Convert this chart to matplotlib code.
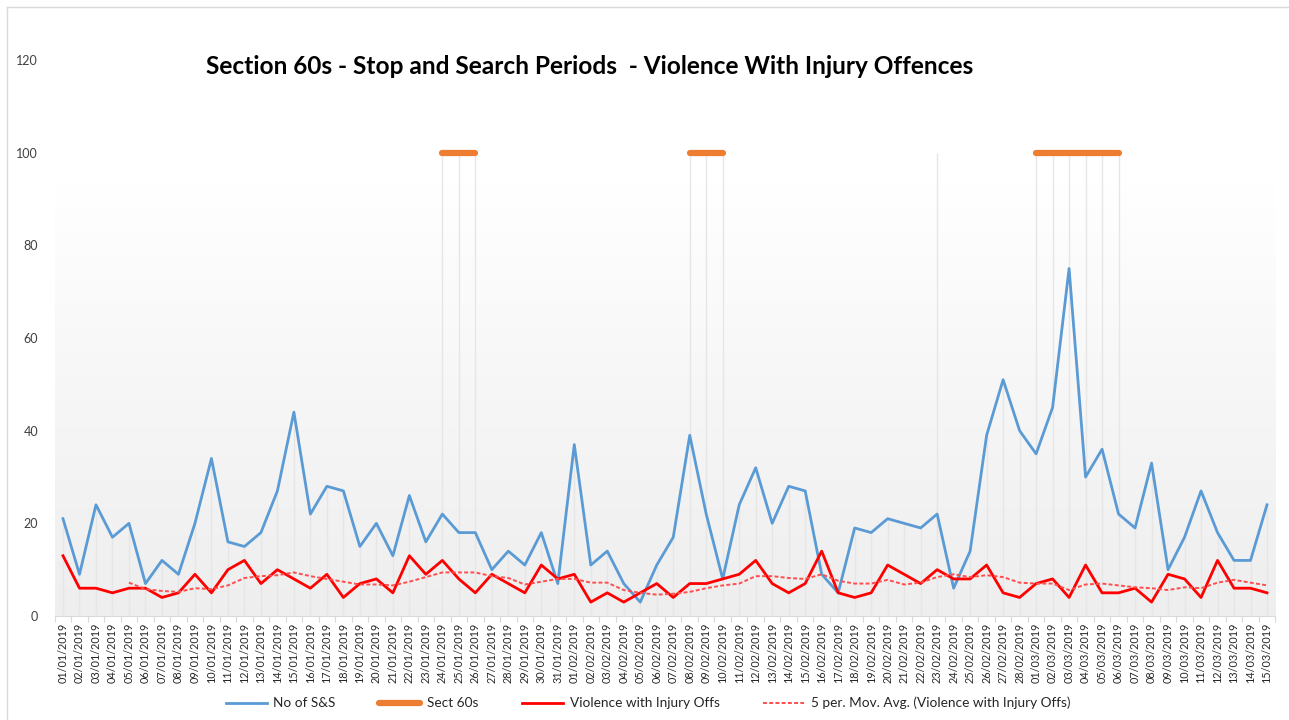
import numpy as np
import pandas as pd
import matplotlib
matplotlib.use("Agg")
import matplotlib.pyplot as plt
from matplotlib.lines import Line2D
from matplotlib.colors import LinearSegmentedColormap

plt.rcParams['font.family'] = ['Lato', 'DejaVu Sans']

dates = pd.date_range("2019-01-01", "2019-03-15", freq="D")
date_labels = [d.strftime("%d/%m/%Y") for d in dates]

no_of_ss = [21, 9, 24, 17, 20, 7, 12, 9, 20, 34,
            16, 15, 18, 27, 44, 22, 28, 27, 15, 20,
            13, 26, 16, 22, 18, 18, 10, 14, 11, 18, 7,
            37, 11, 14, 7, 3, 11, 17, 39, 22, 8,
            24, 32, 20, 28, 27, 9, 5, 19, 18, 21,
            20, 19, 22, 6, 14, 39, 51, 40,
            35, 45, 75, 30, 36, 22, 19, 33, 10, 17, 27, 18, 12, 12, 24]

violence = [13, 6, 6, 5, 6, 6, 4, 5, 9, 5,
            10, 12, 7, 10, 8, 6, 9, 4, 7, 8,
            5, 13, 9, 12, 8, 5, 9, 7, 5, 11, 8,
            9, 3, 5, 3, 5, 7, 4, 7, 7, 8,
            9, 12, 7, 5, 7, 14, 5, 4, 5, 11,
            9, 7, 10, 8, 8, 11, 5, 4,
            7, 8, 4, 11, 5, 5, 6, 3, 9, 8, 4, 12, 6, 6, 5]

sect60_days = ["24/01/2019", "25/01/2019", "26/01/2019",
               "08/02/2019", "09/02/2019", "10/02/2019",
               "23/02/2019",
               "01/03/2019", "02/03/2019", "03/03/2019",
               "04/03/2019", "05/03/2019", "06/03/2019"]
sect60_value = 100

y_ticks = [0, 20, 40, 60, 80, 100, 120]
title = "Section 60s - Stop and Search Periods  - Violence With Injury Offences"

x = np.arange(len(dates))
ss = np.array(no_of_ss, dtype=float)
vio = np.array(violence, dtype=float)
sect = np.array([sect60_value if d in sect60_days else np.nan for d in date_labels], dtype=float)
mavg = pd.Series(vio).rolling(5).mean().values

fig = plt.figure(figsize=(12.89, 7.2), dpi=100)
ax = fig.add_axes([54.75 / 1289, 104 / 720, 1220.5 / 1289, 556 / 720])
ax.set_xlim(-0.5, len(dates) - 0.5)
ax.set_ylim(0, 120)

# gradient plot-area fill
cmap = LinearSegmentedColormap.from_list("g", ["#eeeeee", "#f6f6f6", "#ffffff"])
grad = np.linspace(0, 1, 256).reshape(-1, 1)
ax.imshow(grad, extent=[-0.5, len(dates) - 0.5, 0, 93], origin="lower",
          cmap=cmap, aspect="auto", zorder=0)

# drop lines
tops = np.nanmax(np.vstack([ss, vio, sect]), axis=0)
ax.vlines(x, 0, tops, color="#e6e6e6", lw=1.0, zorder=1)

ax.plot(x, ss, color="#5B9BD5", lw=2.0, zorder=3, label="No of S&S")
ax.plot(x, sect, color="#ED7D31", lw=4.5, solid_capstyle="round", zorder=3, label="Sect 60s")
ax.plot(x, vio, color="#FF0000", lw=2.0, zorder=4, label="Violence with Injury Offs")
ax.plot(x, mavg, color="#FF4D4D", lw=1.4, ls=(0, (2, 1.2)), zorder=4,
        label="5 per. Mov. Avg. (Violence with Injury Offs)")

ax.set_yticks(y_ticks)
ax.set_yticklabels([str(v) for v in y_ticks], fontsize=9, color="#404040")
ax.tick_params(axis="y", length=0, pad=12)
ax.set_xticks(x)
ax.set_xticklabels(date_labels, rotation=90, fontsize=7.8, color="#262626")
ax.set_xticks(np.arange(-0.5, len(dates), 1), minor=True)
ax.tick_params(axis="x", which="major", length=0, pad=5)
ax.tick_params(axis="x", which="minor", length=4, color="#d9d9d9", width=0.8)

for s in ["top", "right", "left"]:
    ax.spines[s].set_visible(False)
ax.spines["bottom"].set_color("#d9d9d9")
ax.spines["bottom"].set_linewidth(0.8)
ax.patch.set_alpha(0)

fig.text(589.5 / 1289, 1 - 66 / 720, title, fontsize=17.6, fontweight="bold",
         ha="center", va="center", color="#000000")

leg = fig.legend(loc="center", bbox_to_anchor=(648 / 1289, 17 / 720), ncol=4,
                 frameon=False, fontsize=9.8, handlelength=3.0, columnspacing=3.2,
                 handletextpad=0.5)
for t in leg.get_texts():
    t.set_color("#262626")

# chart-area border (left and top)
fig.add_artist(Line2D([7 / 1289, 7 / 1289], [0, 1 - 7 / 720], transform=fig.transFigure,
                      color="#d9d9d9", lw=1))
fig.add_artist(Line2D([7 / 1289, 1], [1 - 7 / 720, 1 - 7 / 720], transform=fig.transFigure,
                      color="#d9d9d9", lw=1))

fig.savefig("out.png", dpi=100)
